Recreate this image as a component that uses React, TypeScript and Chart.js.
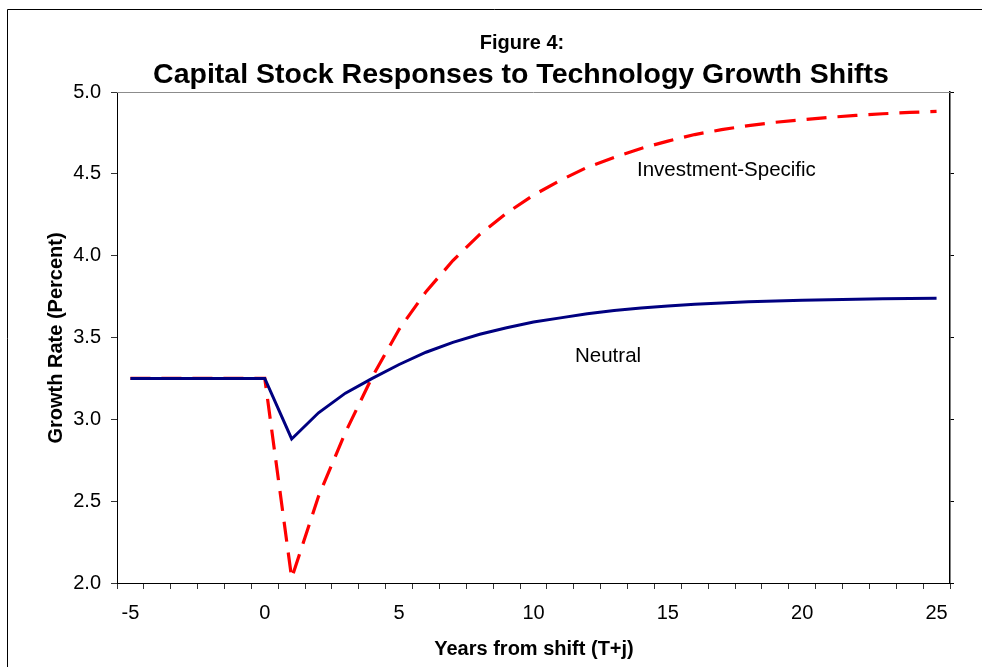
import React, { useEffect, useRef } from "react";
import { Chart, registerables } from "chart.js";

Chart.register(...registerables);

const years = [-5, -4, -3, -2, -1, 0, 1, 2, 3, 4, 5, 6, 7, 8, 9, 10, 11, 12, 13, 14, 15, 16, 17, 18, 19, 20, 21, 22, 23, 24, 25];

const neutral = [3.25, 3.25, 3.25, 3.25, 3.25, 3.25, 2.88, 3.04, 3.16, 3.25, 3.335, 3.41, 3.47, 3.52, 3.56, 3.595, 3.62, 3.645, 3.665, 3.68, 3.693, 3.703, 3.711, 3.718, 3.723, 3.728, 3.731, 3.734, 3.736, 3.738, 3.74];

const investmentSpecific = [3.25, 3.25, 3.25, 3.25, 3.25, 3.25, 2.03, 2.53, 2.92, 3.26, 3.55, 3.78, 3.97, 4.13, 4.26, 4.37, 4.46, 4.54, 4.6, 4.655, 4.7, 4.74, 4.77, 4.795, 4.815, 4.83, 4.845, 4.857, 4.867, 4.875, 4.882];

const yMin = 2.0;
const yMax = 5.0;
const yStep = 0.5;

const figureLabel = "Figure 4:";
const titleText = "Capital Stock Responses to Technology Growth Shifts";
const xTitle = "Years from shift (T+j)";
const yTitle = "Growth Rate (Percent)";
const seriesNames = ["Neutral", "Investment-Specific"];

const FONT = "'Liberation Sans', Arial, Helvetica, sans-serif";

const decorPlugin = {
  id: "decor",
  afterDraw(chart: any) {
    const ctx = chart.ctx;
    const area = chart.chartArea;
    ctx.save();
    // outer frame
    ctx.strokeStyle = "#000";
    ctx.lineWidth = 1;
    ctx.beginPath();
    ctx.moveTo(7.5, 667);
    ctx.lineTo(7.5, 9.5);
    ctx.lineTo(982, 9.5);
    ctx.stroke();
    // top plot border (gray)
    ctx.strokeStyle = "#8c8c8c";
    ctx.beginPath();
    ctx.moveTo(area.left, area.top + 0.5);
    ctx.lineTo(area.right, area.top + 0.5);
    ctx.stroke();

    ctx.fillStyle = "#000";
    ctx.textAlign = "center";
    ctx.textBaseline = "alphabetic";
    ctx.font = `bold 20px ${FONT}`;
    ctx.fillText(figureLabel, 522, 49);
    ctx.font = `bold 28.5px ${FONT}`;
    ctx.fillText(titleText, 521, 83);
    ctx.font = `bold 20px ${FONT}`;
    ctx.fillText(xTitle, 534, 655);

    ctx.save();
    ctx.translate(61.5, 338);
    ctx.rotate(-Math.PI / 2);
    ctx.fillText(yTitle, 0, 0);
    ctx.restore();

    ctx.textAlign = "left";
    ctx.font = `20.5px ${FONT}`;
    ctx.fillText(seriesNames[1], 637, 176);
    ctx.fillText(seriesNames[0], 575, 362);
    ctx.restore();
  },
};

export default function App() {
  const canvasRef = useRef<HTMLCanvasElement | null>(null);

  useEffect(() => {
    const canvas = canvasRef.current;
    if (!canvas) return;
    const chart = new Chart(canvas, {
      type: "line",
      data: {
        labels: years.map((y) => String(y)),
        datasets: [
          {
            label: seriesNames[0],
            data: neutral,
            borderColor: "#000080",
            borderWidth: 3,
            pointRadius: 0,
            tension: 0,
            fill: false,
            borderJoinStyle: "miter",
            yAxisID: "y",
            order: 0,
          },
          {
            label: seriesNames[1],
            data: investmentSpecific,
            borderColor: "#ff0000",
            borderWidth: 3.2,
            borderDash: [20, 11],
            pointRadius: 0,
            tension: 0,
            fill: false,
            yAxisID: "y",
            order: 1,
          },
        ],
      },
      options: {
        responsive: false,
        animation: false,
        devicePixelRatio: 1,
        layout: { padding: { top: 92, left: 0, right: 0, bottom: 0 } },
        plugins: {
          legend: { display: false },
          tooltip: { enabled: false },
          title: { display: false },
        },
        scales: {
          x: {
            type: "category",
            offset: true,
            grid: {
              offset: true,
              drawOnChartArea: false,
              drawTicks: true,
              tickLength: 6,
              color: "#333",
            },
            border: { display: true, color: "#000", width: 1 },
            ticks: {
              autoSkip: false,
              maxRotation: 0,
              minRotation: 0,
              padding: 12,
              color: "#000",
              font: { family: FONT, size: 20 },
              callback: (_v: any, idx: number) => (years[idx] % 5 === 0 ? String(years[idx]) : ""),
            },
            afterFit: (scale: any) => {
              scale.height = 84;
            },
          },
          y: {
            type: "linear",
            position: "left",
            min: yMin,
            max: yMax,
            grid: {
              drawOnChartArea: false,
              drawTicks: true,
              tickLength: 6,
              color: "#333",
            },
            border: { display: true, color: "#000", width: 1 },
            ticks: {
              stepSize: yStep,
              padding: 10,
              color: "#000",
              font: { family: FONT, size: 20 },
              callback: (v: any) => Number(v).toFixed(1),
            },
            afterFit: (scale: any) => {
              scale.width = 117;
            },
          },
          y2: {
            type: "linear",
            position: "right",
            min: yMin,
            max: yMax,
            grid: {
              drawOnChartArea: false,
              drawTicks: true,
              tickLength: 4,
              color: "#000",
            },
            border: { display: true, color: "#000", width: 1.5 },
            ticks: {
              stepSize: yStep,
              display: false,
            },
            afterFit: (scale: any) => {
              scale.width = 32;
            },
          },
        },
      },
      plugins: [decorPlugin],
    });
    return () => chart.destroy();
  }, []);

  return (
    <div style={{ position: "absolute", left: 0, top: 0, width: 982, height: 667, background: "#fff" }}>
      <canvas ref={canvasRef} width={982} height={667} style={{ width: 982, height: 667, display: "block" }} />
    </div>
  );
}
